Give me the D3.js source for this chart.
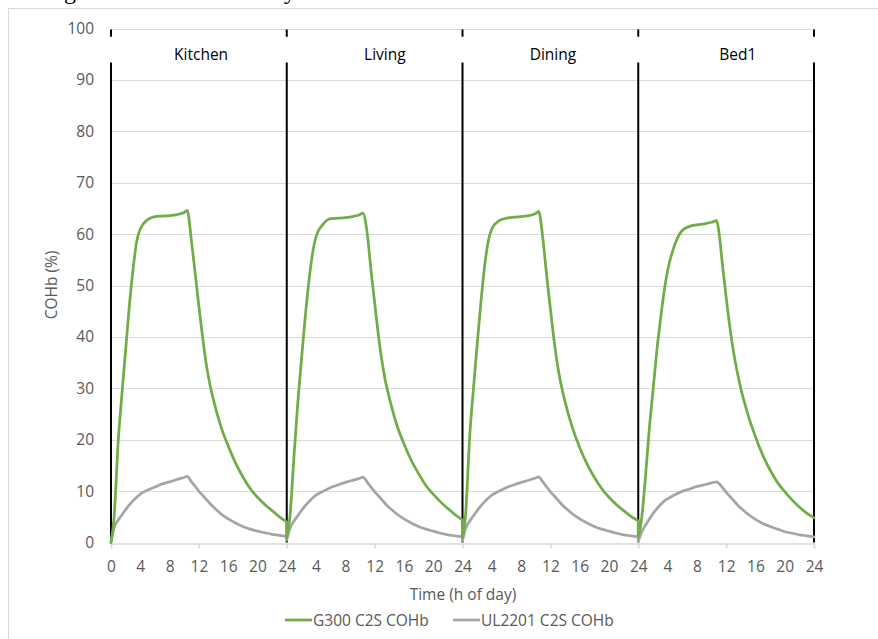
<!DOCTYPE html>
<html><head><meta charset="utf-8">
<script src="https://cdn.jsdelivr.net/npm/d3@7"></script>
<style>
html,body{margin:0;padding:0;background:#fff;overflow:hidden;}
svg{display:block;}
</style></head>
<body>
<svg id="chart" width="878" height="639"></svg>
<script>
// ---------- DATA ----------
const rooms = ["Kitchen", "Living", "Dining", "Bed1"];
const roomLabelHour = [12.3, 13.4, 12.35, 13.6];
const peakHour = [10.4, 10.4, 10.4, 10.7];
// index 15 is the peak hour (replaced per room by peakHour)
const hours = [0, 0.4, 1, 1.5, 2, 2.5, 3, 3.5, 4, 5, 6, 7, 8, 9, 10, 10.4, 11, 11.5, 12, 12.5, 13, 13.5, 14, 15, 16, 17, 18, 19, 20, 21, 22, 23, 24];

const g300Kitchen = [0, 4.5, 20, 29, 37.5, 46, 53, 58.5, 61, 62.8, 63.4, 63.5, 63.6, 63.8, 64.2, 64.6, 58.5, 52.3, 46, 40, 34.8, 30.8, 27.7, 22.6, 18.8, 15.5, 12.8, 10.5, 8.8, 7.4, 6.2, 5.0, 4.0];
const g300Living  = [0.8, 4.5, 17, 27, 35.5, 43.5, 50.5, 56, 59.5, 62, 63, 63.1, 63.2, 63.4, 63.8, 64.1, 60, 53, 46.7, 40.5, 35.3, 31.2, 28.2, 23, 19.2, 16, 13.4, 11.1, 9.4, 7.9, 6.6, 5.4, 4.4];
const g300Dining  = [1, 5, 21, 30, 38.5, 46.5, 53.5, 58.5, 61, 62.6, 63.1, 63.3, 63.4, 63.6, 64, 64.4, 58.8, 51.8, 45.5, 39.4, 34.3, 30.5, 27.4, 22.4, 18.5, 15.3, 12.7, 10.5, 8.8, 7.4, 6.2, 5.1, 4.2];
const g300Bed1    = [1.1, 4, 13, 22, 29.3, 36.8, 43, 48.5, 52.8, 58, 60.7, 61.5, 61.8, 62, 62.3, 62.6, 60.6, 54, 47.8, 42, 37.2, 33.3, 30, 24.8, 20.6, 17, 14.1, 11.7, 9.9, 8.3, 6.9, 5.7, 4.8];

const ul2201Kitchen = [0, 2.8, 4.4, 5.4, 6.4, 7.3, 8.1, 8.8, 9.4, 10.2, 10.8, 11.4, 11.8, 12.25, 12.65, 12.85, 11.8, 10.9, 10, 9.2, 8.4, 7.6, 6.9, 5.6, 4.6, 3.8, 3.1, 2.6, 2.2, 1.9, 1.6, 1.4, 1.2];
const ul2201Living  = [0.5, 2.6, 4.2, 5.2, 6.2, 7.1, 7.9, 8.6, 9.2, 10.0, 10.7, 11.2, 11.7, 12.1, 12.5, 12.7, 11.7, 10.8, 9.9, 9.1, 8.3, 7.5, 6.8, 5.6, 4.6, 3.8, 3.1, 2.6, 2.2, 1.8, 1.5, 1.3, 1.1];
const ul2201Dining  = [0.3, 2.6, 4.2, 5.2, 6.2, 7.1, 7.9, 8.6, 9.2, 10.0, 10.7, 11.2, 11.7, 12.1, 12.55, 12.75, 11.75, 10.8, 9.9, 9.1, 8.3, 7.5, 6.8, 5.6, 4.6, 3.8, 3.1, 2.6, 2.2, 1.8, 1.5, 1.3, 1.1];
const ul2201Bed1    = [0.2, 1.8, 3.4, 4.5, 5.6, 6.5, 7.3, 8.0, 8.5, 9.3, 9.95, 10.4, 10.9, 11.2, 11.6, 11.8, 11.5, 10.7, 9.8, 9.0, 8.2, 7.4, 6.7, 5.5, 4.5, 3.7, 3.1, 2.6, 2.1, 1.8, 1.5, 1.3, 1.1];

const seriesNames = ["G300 C2S COHb", "UL2201 C2S COHb"];
const seriesColors = ["#70ad47", "#a5a5a5"];
const g300 = [g300Kitchen, g300Living, g300Dining, g300Bed1];
const ul2201 = [ul2201Kitchen, ul2201Living, ul2201Dining, ul2201Bed1];

const xTickValues = [0,4,8,12,16,20,24,28,32,36,40,44,48,52,56,60,64,68,72,76,80,84,88,92,96];
const xTickLabels = ["0","4","8","12","16","20","24","4","8","12","16","20","24","4","8","12","16","20","24","4","8","12","16","20","24"];
const xMarkTicks = [0,12,24,36,48,60,72,84,96];
const yTickValues = [0,10,20,30,40,50,60,70,80,90,100];
const dividerHours = [0, 24, 48, 72, 96];

// ---------- CHART ----------
const svg = d3.select("#chart");
const FONT = "'Open Sans', 'Liberation Sans', sans-serif";
const FS = 15.5;
const x = d3.scaleLinear().domain([0, 96]).range([111, 814]);
const y = d3.scaleLinear().domain([0, 100]).range([542.5, 28.5]);

// partial caption text at top (cut off by the page edge, as in the source)
svg.append("text").attr("x", 64).attr("y", -1).attr("font-family", "'Liberation Serif', serif").attr("font-size", 24).attr("fill", "#000").text("g");
svg.append("text").attr("x", 284).attr("y", -1).attr("font-family", "'Liberation Serif', serif").attr("font-size", 24).attr("fill", "#000").text("y");

// chart area border
svg.append("rect").attr("x", 8.5).attr("y", 8.5).attr("width", 900).attr("height", 700)
  .attr("fill", "none").attr("stroke", "#d9d9d9").attr("stroke-width", 1);

// gridlines
svg.append("g").selectAll("line").data(yTickValues.filter(v => v > 0)).join("line")
  .attr("x1", x(0)).attr("x2", x(96))
  .attr("y1", d => Math.round(y(d)) + 0.5).attr("y2", d => Math.round(y(d)) + 0.5)
  .attr("stroke", "#d9d9d9").attr("stroke-width", 1);

// y axis labels
const yAxis = svg.append("g").attr("transform", `translate(94,0)`)
  .call(d3.axisLeft(y).tickValues(yTickValues).tickSize(0).tickPadding(0).tickFormat(d3.format("d")));
yAxis.select(".domain").remove();
yAxis.selectAll("text").attr("font-family", FONT).attr("font-size", FS).attr("fill", "#595959");

// x axis line + tick marks
const xAxisMarks = svg.append("g").attr("transform", `translate(0,${Math.round(y(0)) + 0.5})`)
  .call(d3.axisBottom(x).tickValues(xMarkTicks).tickSize(5).tickFormat(""));
xAxisMarks.select(".domain").attr("stroke", "#d9d9d9").attr("stroke-width", 1.5);
xAxisMarks.selectAll(".tick line").attr("stroke", "#d9d9d9").attr("stroke-width", 1.5);

// x axis labels
const xAxisLabels = svg.append("g").attr("transform", `translate(0,${y(0)})`)
  .call(d3.axisBottom(x).tickValues(xTickValues).tickSize(0).tickPadding(18)
    .tickFormat((d, i) => xTickLabels[i]));
xAxisLabels.select(".domain").remove();
xAxisLabels.selectAll("text").attr("font-family", FONT).attr("font-size", FS).attr("fill", "#595959");

// axis titles
svg.append("text").attr("x", 463).attr("y", 600).attr("text-anchor", "middle")
  .attr("font-family", FONT).attr("font-size", FS).attr("fill", "#595959").text("Time (h of day)");
svg.append("text").attr("transform", "translate(57,285) rotate(-90)").attr("text-anchor", "middle")
  .attr("font-family", FONT).attr("font-size", FS).attr("fill", "#595959").text("COHb (%)");

// room divider lines (with gap for labels)
const dividers = svg.append("g");
dividerHours.forEach(h => {
  dividers.append("line").attr("x1", x(h)).attr("x2", x(h)).attr("y1", y(100) + 1).attr("y2", y(98.4))
    .attr("stroke", "#000").attr("stroke-width", 2);
  dividers.append("line").attr("x1", x(h)).attr("x2", x(h)).attr("y1", y(93.4)).attr("y2", y(0))
    .attr("stroke", "#000").attr("stroke-width", 2);
});

// room labels
svg.append("g").selectAll("text").data(rooms).join("text")
  .attr("x", (d, i) => x(i * 24 + roomLabelHour[i])).attr("y", 60).attr("text-anchor", "middle")
  .attr("font-family", FONT).attr("font-size", FS).attr("fill", "#000").text(d => d);

// series
const line = d3.line().x(d => x(d[0])).y(d => y(d[1])).curve(d3.curveMonotoneX);
function seriesPath(arrs) {
  return arrs.map((vals, r) => {
    const pts = hours.map((h, j) => [r * 24 + (j === 15 ? peakHour[r] : h), vals[j]]);
    const p = line(pts);
    return r === 0 ? p : p.replace(/^M/, "L");
  }).join("");
}
[[ul2201, 1], [g300, 0]].forEach(([arrs, idx]) => {
  svg.append("path").attr("d", seriesPath(arrs)).attr("fill", "none")
    .attr("stroke", seriesColors[idx]).attr("stroke-width", 2.75)
    .attr("stroke-linejoin", "round").attr("stroke-linecap", "round");
});

// legend
const legendX = [285, 453];
seriesNames.forEach((name, i) => {
  svg.append("line").attr("x1", legendX[i]).attr("x2", legendX[i] + 27).attr("y1", 620).attr("y2", 620)
    .attr("stroke", seriesColors[i]).attr("stroke-width", 2.75);
  svg.append("text").attr("x", legendX[i] + 28).attr("y", 625.5)
    .attr("font-family", FONT).attr("font-size", FS).attr("fill", "#595959").text(name);
});
</script>
</body></html>
